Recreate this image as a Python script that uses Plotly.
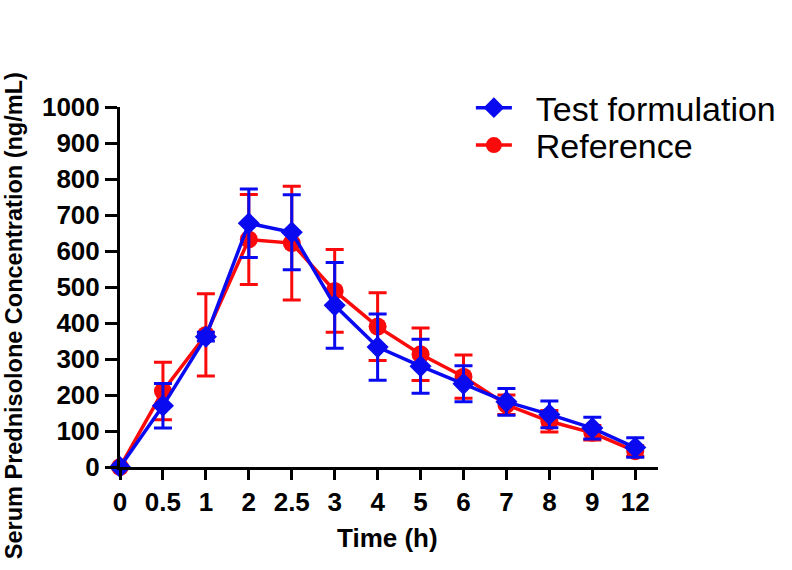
import plotly.graph_objects as go

time_labels = ['0', '0.5', '1', '2', '2.5', '3', '4', '5', '6', '7', '8', '9', '12']

# mean serum concentration (ng/mL) and SD
test_mean = [0, 170, 362, 677, 652, 449, 333, 280, 231, 181, 146, 108, 54]
test_sd = [0, 62, 12, 95, 104, 119, 92, 75, 50, 37, 37, 30, 27]
ref_mean = [0, 211, 367, 632, 622, 489, 390, 313, 251, 173, 127, 95, 44]
ref_sd = [0, 80, 114, 125, 158, 115, 94, 73, 60, 27, 30, 20, 15]

BLUE = 'rgb(10,10,240)'
RED = 'rgb(250,10,10)'

fig = go.Figure()

fig.add_trace(go.Scatter(
    x=time_labels, y=ref_mean, name='\u00a0\u00a0Reference',
    mode='lines+markers',
    line=dict(color=RED, width=3.5),
    marker=dict(symbol='circle', size=18, color=RED),
    error_y=dict(type='data', array=ref_sd, visible=True, color=RED, thickness=3, width=9),
    cliponaxis=False, legend='legend2',
))

fig.add_trace(go.Scatter(
    x=time_labels, y=test_mean, name='\u00a0\u00a0Test formulation',
    mode='lines+markers',
    line=dict(color=BLUE, width=3.5),
    marker=dict(symbol='diamond', size=17, color=BLUE),
    error_y=dict(type='data', array=test_sd, visible=True, color=BLUE, thickness=3, width=9),
    cliponaxis=False, legend='legend',
))

tickfont = dict(family='Liberation Sans', size=26, color='black', weight='bold')
legfont = dict(family='Liberation Sans', size=34, color='black')

fig.update_layout(
    width=792, height=570,
    margin=dict(l=120, r=133, t=107, b=103),
    plot_bgcolor='white', paper_bgcolor='white',
    font=dict(family='Liberation Sans', color='black'),
    showlegend=True,
    legend=dict(x=0.651, y=0.997, xanchor='left', yanchor='middle',
                font=legfont, itemwidth=36, bgcolor='rgba(0,0,0,0)'),
    legend2=dict(x=0.651, y=0.893, xanchor='left', yanchor='middle',
                 font=legfont, itemwidth=36, bgcolor='rgba(0,0,0,0)'),
)

fig.update_xaxes(
    type='category', range=[0, 12.53], automargin=False,
    showline=True, linecolor='black', linewidth=3,
    ticks='outside', ticklen=10, tickwidth=3, tickcolor='black',
    tickfont=tickfont, showgrid=False, zeroline=False,
)

fig.update_yaxes(
    range=[0, 1000], tickvals=list(range(0, 1001, 100)), automargin=False,
    showline=True, linecolor='black', linewidth=3,
    ticks='outside', ticklen=12, tickwidth=3, tickcolor='black',
    tickfont=tickfont, showgrid=False, zeroline=False,
)

fig.add_annotation(text='<b>Time (h)</b>', xref='paper', yref='paper',
                   x=(388 - 120) / 539, y=-(538 - 467) / 360,
                   xanchor='center', yanchor='middle',
                   showarrow=False, font=dict(family='Liberation Sans', size=26))
fig.add_annotation(text='<b>Serum Prednisolone Concentration (ng/mL)</b>', textangle=-90,
                   xref='paper', yref='paper',
                   x=(14 - 120) / 539, y=(467 - 316) / 360,
                   xanchor='center', yanchor='middle',
                   showarrow=False, font=dict(family='Liberation Sans', size=23.5))

# drop the default body margin so the figure sits at the page corner
fig.write_html('out.html', config={'displayModeBar': False},
               post_script="document.body.style.margin='0px';")
